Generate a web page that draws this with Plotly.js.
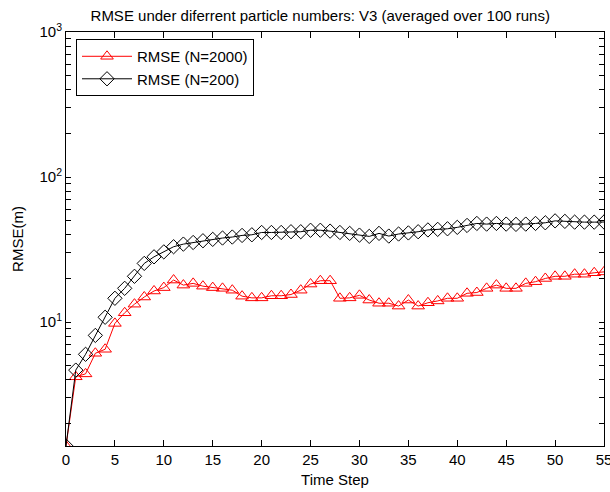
<!DOCTYPE html>
<html>
<head>
<meta charset="utf-8">
<script src="https://cdn.plot.ly/plotly-3.0.1.min.js"></script>
<style>html,body{margin:0;padding:0;background:#fff;}#chart{width:610px;height:492px;}</style>
</head>
<body>
<div id="chart"></div>
<script>
const timeSteps = Array.from({length: 56}, (_, i) => i);
const rmseN2000 = [1.4, 4.2, 4.4, 6.1, 6.5, 9.8, 11.6, 13.3, 14.9, 16.4, 17.3, 19.5, 18.0, 18.5, 17.7, 17.3, 17.1, 16.6, 15.1, 14.7,
  14.7, 15.2, 15.2, 15.5, 16.6, 18.3, 19.3, 19.3, 14.6, 14.7, 15.3, 14.2, 13.5, 13.5, 12.9, 14.2, 12.9, 13.6, 14.0, 14.6,
  14.6, 15.8, 16.0, 17.1, 18.0, 17.1, 17.1, 18.5, 19.0, 20.0, 20.7, 20.7, 21.4, 21.4, 21.9, 22.2];
const rmseN200 = [1.4, 4.67, 6.0, 8.1, 10.8, 14.6, 17.1, 20.7, 25.4, 28.2, 30.5, 33.1, 34.5, 35.4, 36.4, 37.2, 38.0, 38.6, 39.6, 40.0,
  41.5, 41.5, 41.5, 42.0, 42.0, 43.0, 43.0, 42.4, 41.5, 40.9, 39.8, 39.0, 40.9, 39.2, 40.5, 41.2, 42.0, 43.2, 43.6, 44.0,
  45.0, 46.4, 47.9, 47.4, 47.9, 47.4, 47.2, 47.4, 47.9, 48.4, 49.9, 49.5, 48.9, 48.9, 48.9, 49.0];
const seriesNames = ['RMSE (N=2000)', 'RMSE (N=200)'];
const xTickVals = [0, 5, 10, 15, 20, 25, 30, 35, 40, 45, 50, 55];
const yMajorVals = [10, 100, 1000];
const yMajorText = ['10<sup>1</sup>', '10<sup>2</sup>', '10<sup>3</sup>'];

// all y ticks (decades labelled, intermediate 2..9 unlabelled)
const yTickVals = [];
const yTickText = [];
[1, 10, 100].forEach(d => {
  for (let k = 2; k <= 9; k++) { yTickVals.push(k * d); yTickText.push(''); }
  const i = yMajorVals.indexOf(d * 10);
  yTickVals.push(yMajorVals[i]); yTickText.push(yMajorText[i]);
});

const font = {family: 'Liberation Sans, Arial, sans-serif', size: 15, color: '#000'};
const yRange = [Math.log10(1.4), 3];

const traces = [
  {x: timeSteps, y: rmseN2000, name: seriesNames[0], type: 'scatter', mode: 'lines+markers',
   line: {color: '#ff0000', width: 1},
   marker: {symbol: 'triangle-up-open', size: 11, color: '#ff0000', line: {width: 1, color: '#ff0000'}}},
  {x: timeSteps, y: rmseN200, name: seriesNames[1], type: 'scatter', mode: 'lines+markers',
   line: {color: '#000000', width: 1},
   marker: {symbol: 'diamond-open', size: 11, color: '#000000', line: {width: 1, color: '#000000'}}}
];

const layout = {
  width: 610, height: 492,
  margin: {l: 66, r: 6, t: 32, b: 46},
  paper_bgcolor: '#fff', plot_bgcolor: '#fff',
  font: font,
  title: {text: 'RMSE under diferrent particle numbers: V3 (averaged over 100 runs)', font: {family: font.family, size: 15, color: '#000'},
          xref: 'container', yref: 'container', x: 0.525, xanchor: 'center', y: 0.969, yanchor: 'middle'},
  xaxis: {
    title: {text: 'Time Step', font: font, standoff: 7},
    range: [0, 55], tickvals: xTickVals, ticks: 'inside', ticklen: 6, tickwidth: 1, tickcolor: '#000',
    showline: true, linecolor: '#000', linewidth: 1, mirror: 'ticks', showgrid: false, zeroline: false,
    tickfont: font, ticklabeloverflow: 'allow'
  },
  yaxis: {
    title: {text: 'RMSE(m)', font: font, standoff: 12},
    type: 'log', range: yRange, tickmode: 'array', tickvals: yTickVals, ticktext: yTickText,
    ticks: 'inside', ticklen: 5, tickwidth: 1, tickcolor: '#000',
    showline: true, linecolor: '#000', linewidth: 1, mirror: 'ticks', showgrid: false, zeroline: false,
    tickfont: font, ticklabeloverflow: 'allow'
  },
  legend: {x: 0.0186, y: 0.983, xanchor: 'left', yanchor: 'top', bgcolor: '#fff', bordercolor: '#000', borderwidth: 1,
           font: font, tracegroupgap: 0, itemwidth: 50},
  showlegend: true
};

Plotly.newPlot('chart', traces, layout, {displayModeBar: false, staticPlot: true});
</script>
</body>
</html>
